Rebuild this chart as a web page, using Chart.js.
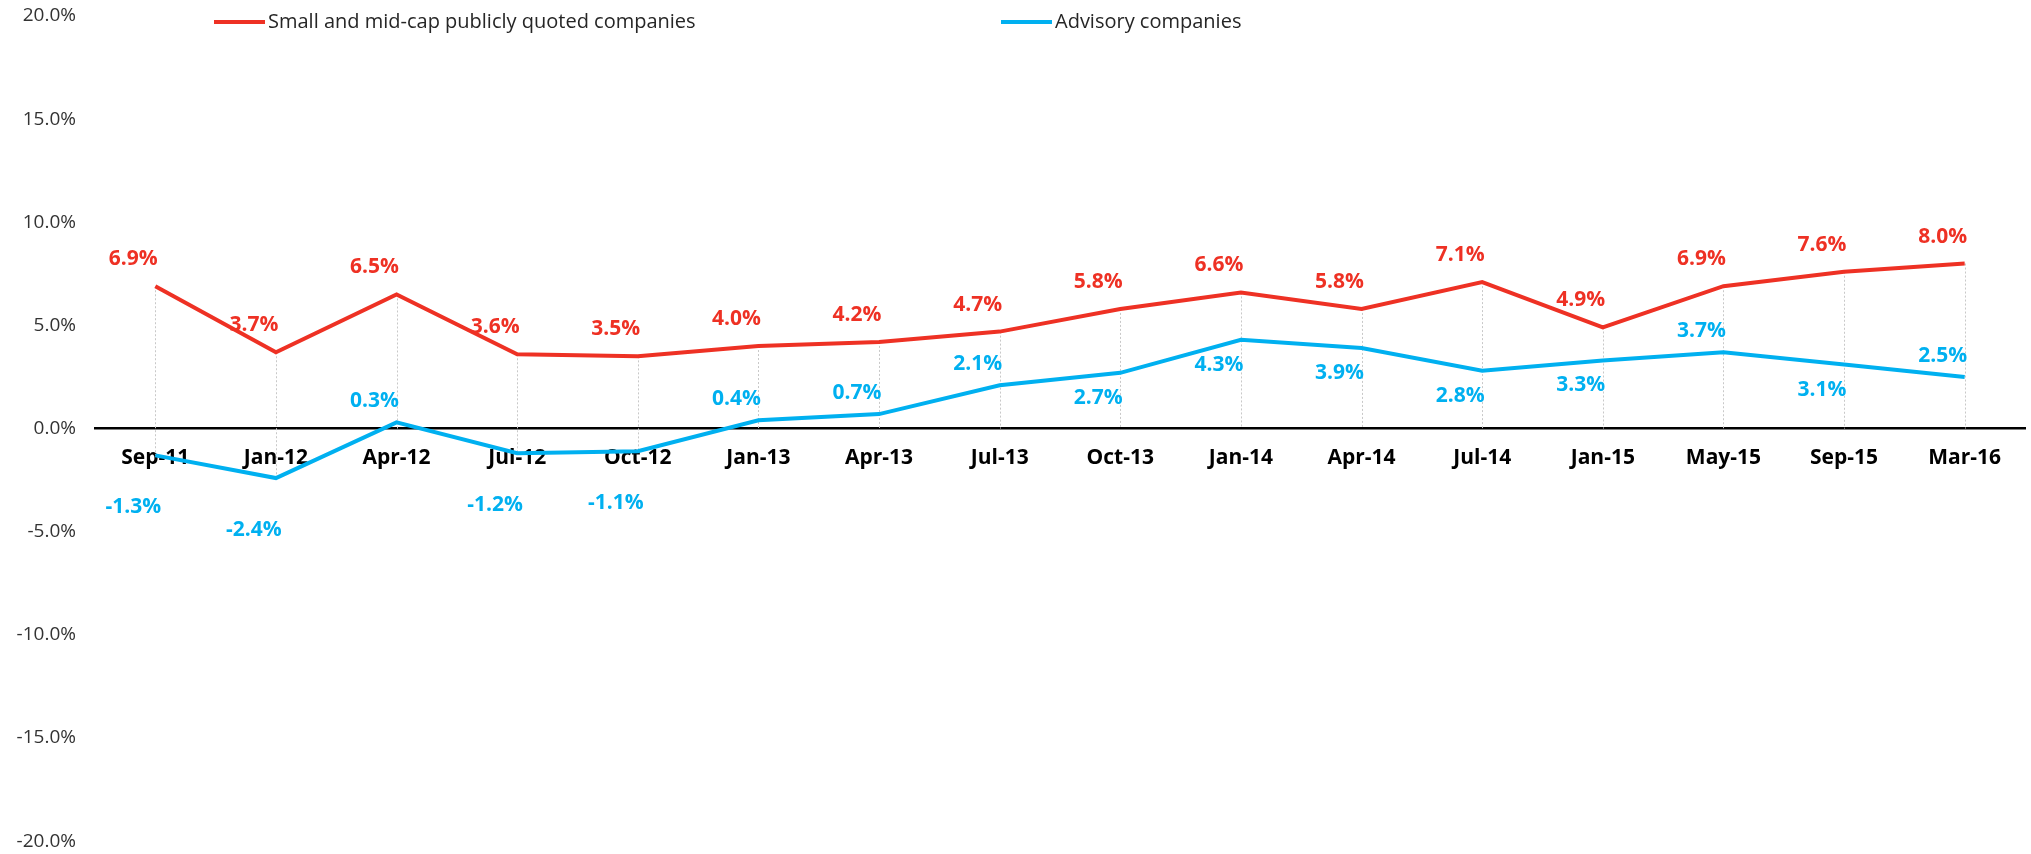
<!DOCTYPE html>
<html><head><meta charset="utf-8">
<script src="https://cdn.jsdelivr.net/npm/chart.js@4/dist/chart.umd.min.js"></script>
<style>html,body{margin:0;padding:0;background:#fff;} #wrap{width:2031px;height:854px;position:relative;}</style>
</head><body><div id="wrap"><canvas id="c"></canvas></div>
<script>
const categories = ['Sep-11','Jan-12','Apr-12','Jul-12','Oct-12','Jan-13','Apr-13','Jul-13','Oct-13','Jan-14','Apr-14','Jul-14','Jan-15','May-15','Sep-15','Mar-16'];
const smallMidCap = [6.9, 3.7, 6.5, 3.6, 3.5, 4.0, 4.2, 4.7, 5.8, 6.6, 5.8, 7.1, 4.9, 6.9, 7.6, 8.0];
const advisory = [-1.3, -2.4, 0.3, -1.2, -1.1, 0.4, 0.7, 2.1, 2.7, 4.3, 3.9, 2.8, 3.3, 3.7, 3.1, 2.5];
const seriesNames = ['Small and mid-cap publicly quoted companies', 'Advisory companies'];
const yMin = -20, yMax = 20, yStep = 5;
const advisoryLabelSide = ['below','below','above','below','below','above','above','above','below','below','below','below','below','above','below','above'];

const RED = '#EE3124', BLUE = '#00B0F0';
const FONT = '"Open Sans", Lato, sans-serif';

const dropLines = {
  id: 'dropLines',
  beforeDatasetsDraw(chart) {
    const {ctx} = chart; const y = chart.scales.y; const x = chart.scales.x;
    ctx.save();
    ctx.strokeStyle = '#C8C8C8'; ctx.lineWidth = 1; ctx.setLineDash([2, 2]);
    categories.forEach((c, i) => {
      const vals = chart.data.datasets.map(d => d.data[i]);
      const hi = Math.max(0, ...vals), lo = Math.min(0, ...vals);
      const px = Math.round(x.getPixelForValue(i)) + 0.5;
      ctx.beginPath(); ctx.moveTo(px, y.getPixelForValue(hi)); ctx.lineTo(px, y.getPixelForValue(lo)); ctx.stroke();
    });
    ctx.restore();
  }
};

const valueLabels = {
  id: 'valueLabels',
  afterDatasetsDraw(chart) {
    const {ctx} = chart;
    ctx.save();
    ctx.font = 'bold 21px ' + FONT;
    ctx.textAlign = 'center'; ctx.textBaseline = 'middle';
    chart.data.datasets.forEach((ds, di) => {
      const meta = chart.getDatasetMeta(di);
      meta.data.forEach((pt, i) => {
        const v = ds.data[i];
        let dy;
        if (di === 0) dy = -27;
        else if (advisoryLabelSide[i] === 'above') dy = -21;
        else dy = v < 0 ? 52 : 25;
        ctx.fillStyle = ds.borderColor;
        ctx.fillText(v.toFixed(1) + '%', pt.x - 22, pt.y + dy);
      });
    });
    ctx.restore();
  }
};

const customLegend = {
  id: 'customLegend',
  afterDraw(chart) {
    const {ctx} = chart;
    const items = [{x: 214, color: RED, text: seriesNames[0]}, {x: 1001, color: BLUE, text: seriesNames[1]}];
    ctx.save();
    ctx.font = '20px ' + FONT; ctx.textBaseline = 'middle'; ctx.textAlign = 'left';
    items.forEach(it => {
      ctx.strokeStyle = it.color; ctx.lineWidth = 4; ctx.setLineDash([]);
      ctx.beginPath(); ctx.moveTo(it.x, 22); ctx.lineTo(it.x + 51, 22); ctx.stroke();
      ctx.fillStyle = '#262626';
      ctx.fillText(it.text, it.x + 54, 22);
    });
    ctx.restore();
  }
};

new Chart(document.getElementById('c'), {
  type: 'line',
  data: {
    labels: categories,
    datasets: [
      {label: seriesNames[0], data: smallMidCap, borderColor: RED, backgroundColor: RED, borderWidth: 4, pointRadius: 0, tension: 0},
      {label: seriesNames[1], data: advisory, borderColor: BLUE, backgroundColor: BLUE, borderWidth: 4, pointRadius: 0, tension: 0}
    ]
  },
  options: {
    responsive: true, maintainAspectRatio: false, animation: false,
    layout: {padding: {top: 16, bottom: 12, left: 0, right: 6}},
    plugins: {legend: {display: false}, tooltip: {enabled: false}},
    scales: {
      x: {
        type: 'category', position: {y: 0}, offset: true,
        grid: {display: false},
        border: {display: true, color: '#000', width: 2.5},
        ticks: {font: {family: FONT, size: 21, weight: 'bold'}, color: '#000', padding: 9, maxRotation: 0, autoSkip: false}
      },
      y: {
        min: yMin, max: yMax,
        grid: {display: false}, border: {display: false},
        ticks: {stepSize: yStep, font: {family: FONT, size: 19, lineHeight: 0.2}, color: '#333', padding: 11,
          callback: v => v.toFixed(1) + '%'},
        afterFit: s => { s.width = 95; }
      }
    }
  },
  plugins: [dropLines, valueLabels, customLegend]
});
</script></body></html>
